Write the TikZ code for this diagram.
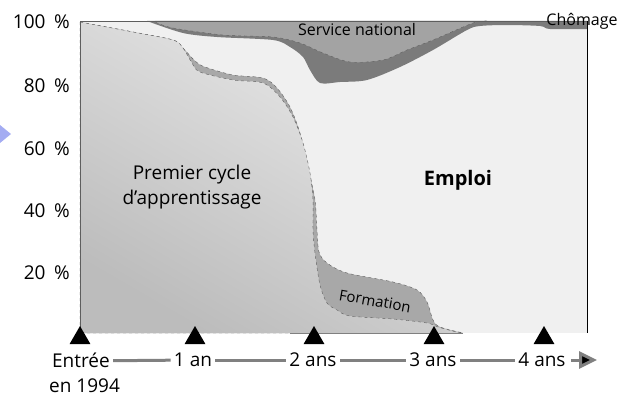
\documentclass[tikz,border=0pt]{standalone}
\usepackage{fontspec}
\setmainfont{Open Sans}
\usepackage{color}
\usetikzlibrary{arrows.meta,positioning,shapes.geometric}
\definecolor{emploi}{HTML}{F0F0F0}
\definecolor{service}{HTML}{A3A3A3}
\definecolor{chomage}{HTML}{7B7B7B}
\definecolor{formation}{HTML}{A8A8A8}
\definecolor{cycletop}{HTML}{EAEAEA}
\definecolor{cyclebot}{HTML}{BCBCBC}
\definecolor{dashgray}{HTML}{5E5E5E}
\definecolor{axisgray}{HTML}{808080}
\definecolor{bluemark}{HTML}{A4ACF2}

\begin{document}
\begin{tikzpicture}[x=1pt,y=-1pt,semithick,font=\fontsize{19}{25}\selectfont]
		\tikzstyle{lab}=[inner sep=3pt,text height=13pt,text depth=0pt]
		\tikzstyle{tick}=[regular polygon,regular polygon sides=3,fill=black,inner sep=0pt,minimum size=24pt]
		\tikzstyle{border}=[draw=dashgray,dashed,thin]
		\tikzstyle{timeline}=[draw=axisgray,line width=3pt]
		
		\useasboundingbox (0,0) rectangle (629,396);
		
		% emploi
		\fill[emploi] (80,21) rectangle (587,333);
		
		% chomage band and service national
		\fill[chomage] (147,21) -- (587,21) -- (587,29) -- plot[smooth,tension=0.5] coordinates {(587,29) (550,29) (540,26) (507,25) (480,26) (467,30) (433,50) (400,67) (367,80) (340,82) (320,83) (310,70) (303,57) (290,47) (273,40) (217,37) (183,33) (147,21)} -- cycle;
		\fill[service] (155,21) -- (487,21) -- plot[smooth,tension=0.5] coordinates {(487,21) (473,23) (433,40) (407,50) (383,60) (350,62) (323,53) (300,43) (273,37) (223,35) (173,28) (155,22)} -- cycle;
		\draw[border] plot[smooth,tension=0.5] coordinates {(487,21) (473,23) (433,40) (407,50) (383,60) (350,62) (323,53) (300,43) (273,37) (223,35) (173,28) (155,22)};
		
		% formation
		\filldraw[fill=formation,border] (80,22) -- plot[smooth,tension=0.5] coordinates {(80,22) (133,32) (173,40) (183,48) (195,61) (205,67) (233,75) (263,78) (277,88) (290,107) (300,133) (308,167) (315,200) (317,230) (319,252) (327,263) (347,273) (393,282) (417,290) (427,302) (433,320) (440,327) (463,333)} -- (80,333) -- cycle;
		
		% premier cycle
		\shade[top color=cycletop,bottom color=cyclebot,shading angle=-30] (80,22) -- plot[smooth,tension=0.5] coordinates {(80,22) (133,32) (173,40) (183,48) (192,63) (200,72) (233,80) (263,83) (280,97) (293,117) (303,143) (310,173) (313,200) (313,230) (315,253) (320,285) (327,303) (337,310) (350,316) (393,319) (427,323) (438,327) (460,333)} -- (80,333) -- cycle;
		\draw[border] plot[smooth,tension=0.5] coordinates {(80,22) (133,32) (173,40) (183,48) (192,63) (200,72) (233,80) (263,83) (280,97) (293,117) (303,143) (310,173) (313,200) (313,230) (315,253) (320,285) (327,303) (337,310) (350,316) (393,319) (427,323) (438,327) (460,333)};
		
		% frame
		\draw[dashgray,thin] (80,333) -- (80,21) -- (587,21);
		\draw[black,thin] (587,21) -- (587,333);
		\draw[axisgray,thin] (290,333) -- (463,333);
		
		\fill[bluemark] (0,125) -- (11,134) -- (0,143) -- cycle;
		
		% labels in the chart
		\node (cycle) at (192,187) [align=center] {Premier cycle\\d’apprentissage};
		\node (emp) at (458,180) {\fontsize{20}{24}\selectfont\bfseries Emploi};
		\node (serv) at (357,30) {\fontsize{16}{19}\selectfont Service national};
		\node (chom) at (582,21) {\fontsize{16}{19}\selectfont Chômage};
		\node (form) at (375,301) [rotate=-10] {\fontsize{15}{18}\selectfont Formation};
		
		% percent axis
		\node[lab,anchor=east] (p100) at (73,22) {100\hspace{0.45em}\%};
		\node[lab,anchor=east] (p80) at (73,86) {80\hspace{0.45em}\%};
		\node[lab,anchor=east] (p60) at (73,149) {60\hspace{0.45em}\%};
		\node[lab,anchor=east] (p40) at (73,211) {40\hspace{0.45em}\%};
		\node[lab,anchor=east] (p20) at (73,273) {20\hspace{0.45em}\%};
		
		% time axis
		\node[tick] (t0) at (80,338) {};
		\node[tick] (t1) at (195,338) {};
		\node[tick] (t2) at (314,338) {};
		\node[tick] (t3) at (434,338) {};
		\node[tick] (t4) at (544,338) {};
		
		\node[lab] (l0) at (81,361) {Entrée};
		\node[lab] (l1) at (193,360) {1 an};
		\node[lab] (l2) at (313,360) {2 ans};
		\node[lab] (l3) at (433,360) {3 ans};
		\node[lab] (l4) at (542,360) {4 ans};
		\node[lab,below=8pt of l0.south west,anchor=north west,inner sep=0pt] (l00) {en 1994};
		\coordinate (tend) at (597,360);
		
		\path[timeline]
		(l0) edge (l1)
		(l1) edge (l2)
		(l2) edge (l3)
		(l3) edge (l4)
		(l4) edge[-{Triangle[length=18pt,width=17pt]},shorten <=2pt] (tend);
	\end{tikzpicture}
\end{document}
